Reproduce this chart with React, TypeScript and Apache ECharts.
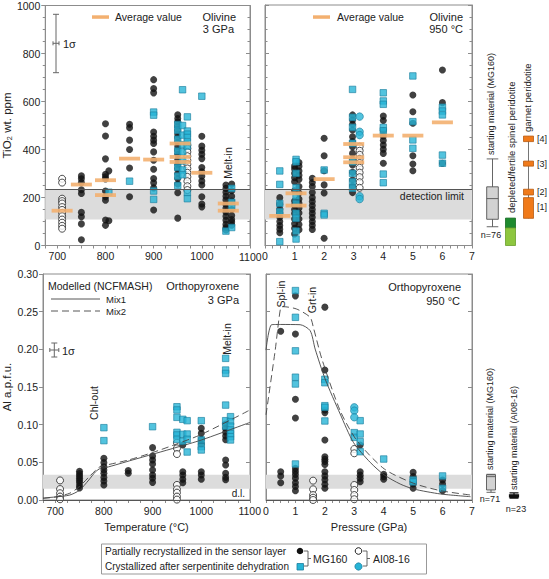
import React, { useEffect, useRef } from "react";
import * as echarts from "echarts";

// ---------------- DATA ----------------
const tempTickLabels = [700, 800, 900, 1000, 1100];

// Olivine, 3 GPa (TiO2 ppm vs temperature)
const olT_black = [
  [750, 290], [750, 278], [750, 262], [750, 232], [750, 217], [750, 138], [750, 120], [750, 90], [750, 24],
  [800, 507], [800, 456], [800, 361], [800, 297], [800, 286], [800, 277], [800, 227], [800, 203], [800, 189], [800, 106], [800, 84], [807, 311], [807, 103],
  [850, 505], [850, 491], [850, 439], [850, 400], [850, 323], [850, 203],
  [900, 691], [900, 654], [900, 636], [900, 473], [900, 455], [900, 439], [900, 425], [900, 390], [900, 355], [900, 318], [900, 279], [900, 261], [900, 240], [900, 148],
  [950, 545], [950, 529], [950, 515], [950, 498], [950, 480], [950, 464], [950, 450], [950, 430], [950, 414], [950, 397], [950, 379], [950, 358], [950, 339], [950, 321], [950, 300], [950, 279], [950, 256], [950, 220], [950, 114],
  [1000, 455], [1000, 414], [1000, 397], [1000, 380], [1000, 362], [1000, 325], [1000, 307], [1000, 289], [1000, 269], [1000, 252], [1000, 203], [1000, 173], [1000, 161],
  [1050, 252], [1050, 238], [1050, 222], [1050, 205], [1050, 190], [1050, 172], [1050, 155], [1050, 140], [1050, 122], [1050, 105], [1050, 88], [1050, 75], [1050, 65],
  [1062, 256], [1062, 228], [1062, 205], [1062, 185], [1062, 150], [1062, 125], [1062, 108], [1062, 98], [1062, 85],
];
const olT_cyanSq = [
  [807, 222], [850, 268], [900, 556], [900, 543], [900, 227], [900, 192],
  [950, 504], [950, 480], [950, 443], [950, 394], [950, 325], [950, 289], [950, 250],
  [960, 649], [960, 500], [960, 460], [960, 420], [960, 390], [960, 352], [960, 315], [960, 295],
  [970, 536], [970, 477], [970, 464], [970, 450], [970, 432], [970, 414], [970, 220], [970, 195],
  [1000, 622], [1050, 60], [1062, 238], [1062, 180], [1062, 161], [1062, 75],
];
const olT_open = [
  [710, 278], [710, 262], [710, 195], [710, 185], [710, 175], [710, 160], [710, 148], [710, 136], [710, 122], [710, 108], [710, 95], [710, 82], [710, 70],
  [970, 418], [970, 404], [970, 390], [970, 372], [970, 355], [970, 339], [970, 321], [970, 303], [970, 286], [970, 268], [970, 247], [970, 231],
];
const olT_avg = [
  [710, 145], [750, 254], [800, 272], [800, 210], [850, 362], [900, 358],
  [955, 425], [955, 369], [955, 348], [1000, 303], [1055, 175], [1055, 145],
];

// Olivine, 950 °C (TiO2 ppm vs pressure)
const olP_black = [
  [0.5, 199], [0.5, 172], [0.5, 152], [0.5, 135], [0.5, 118], [0.5, 100], [0.5, 83], [0.5, 68], [0.5, 53],
  [1.0, 330], [1.0, 318], [1.0, 300], [1.0, 282], [1.0, 265], [1.0, 228], [1.0, 185], [1.0, 168], [1.0, 150], [1.0, 133], [1.0, 110], [1.0, 90], [1.0, 72], [1.0, 48],
  [1.15, 345], [1.15, 330], [1.15, 310], [1.15, 292], [1.15, 275], [1.15, 245], [1.15, 218], [1.15, 193], [1.15, 176], [1.15, 156], [1.15, 135], [1.15, 110], [1.15, 87], [1.15, 66],
  [1.6, 279], [1.6, 262], [1.6, 245], [1.6, 220], [1.6, 199], [1.6, 183], [1.6, 166], [1.6, 150], [1.6, 134], [1.6, 117], [1.6, 100], [1.6, 84], [1.6, 67],
  [2.0, 446], [2.0, 373], [2.0, 311], [2.0, 252], [2.0, 218], [2.0, 30],
  [2.96, 543], [2.96, 522], [2.96, 504], [2.96, 480], [2.96, 452], [2.96, 432], [2.96, 411], [2.96, 383], [2.96, 358], [2.96, 335], [2.96, 304], [2.96, 272], [2.96, 247], [2.96, 220],
  [4.0, 538], [4.0, 520], [4.0, 477], [4.0, 455], [4.0, 437], [4.0, 418], [4.0, 400], [4.0, 383], [4.0, 342],
  [5.0, 626], [5.0, 556], [5.0, 508], [5.0, 373], [5.0, 339], [5.0, 311],
  [6.0, 730], [6.0, 594], [6.0, 342],
];
const olP_cyanSq = [
  [0.5, 310], [0.5, 254], [0.5, 175], [0.5, 141], [0.5, 16],
  [1.05, 358], [1.05, 348], [1.05, 300], [1.05, 240], [1.05, 205], [1.05, 175], [1.05, 134], [1.05, 113], [1.05, 60], [1.05, 27],
  [2.0, 314], [2.0, 134], [2.0, 127],
  [2.96, 649], [2.96, 533], [2.96, 491], [2.96, 425], [2.96, 348], [2.96, 300], [2.96, 265], [2.96, 238],
  [4.0, 635], [4.0, 601], [4.0, 587], [4.0, 491], [4.0, 477], [4.0, 297], [4.0, 261],
  [5.0, 705], [5.0, 515], [5.0, 439], [5.0, 404],
  [6.0, 575], [6.0, 559], [6.0, 543], [6.0, 376], [6.0, 342],
];
const olP_cyanCi = [[3.2, 536], [3.2, 473], [3.2, 459], [3.2, 205], [3.2, 193]];
const olP_open = [
  [3.2, 411], [3.2, 394], [3.2, 377], [3.2, 360], [3.2, 343], [3.2, 323], [3.2, 303], [3.2, 284], [3.2, 263], [3.2, 240],
];
const olP_avg = [
  [0.5, 123], [1.05, 217], [1.05, 166], [2.0, 276], [3.0, 422], [3.0, 367], [3.0, 346], [4.0, 457], [5.0, 457], [6.0, 512],
];

// Orthopyroxene, 3 GPa (Al apfu vs temperature)
const opxT_black = [
  [750, 0.038], [750, 0.035], [750, 0.032], [750, 0.029], [750, 0.026], [750, 0.023], [750, 0.019], [750, 0.016],
  [800, 0.0553], [800, 0.0496], [800, 0.0442], [800, 0.0398], [800, 0.0354], [800, 0.030], [800, 0.0252], [800, 0.0199],
  [850, 0.039], [850, 0.0354],
  [900, 0.0695], [900, 0.0584], [900, 0.053], [900, 0.0478], [900, 0.0398], [900, 0.0332], [900, 0.0288], [900, 0.0234],
  [962, 0.073], [962, 0.0376], [962, 0.0332], [962, 0.0275], [962, 0.023],
  [1000, 0.0951], [1000, 0.0885], [1000, 0.0806], [1000, 0.0743], [1000, 0.0376], [1000, 0.0332], [1000, 0.0275],
  [1050, 0.1009], [1050, 0.0951], [1050, 0.09], [1050, 0.085], [1050, 0.08], [1050, 0.0531], [1050, 0.0465], [1050, 0.0354], [1050, 0.0301], [1050, 0.027],
];
const opxT_cyanSq = [
  [800, 0.096], [800, 0.0788], [900, 0.0973],
  [950, 0.1238], [950, 0.1195], [950, 0.1097], [950, 0.0898], [950, 0.0863], [950, 0.0805],
  [962, 0.1071], [962, 0.0872], [962, 0.078],
  [971, 0.1053], [971, 0.0876], [971, 0.0806], [971, 0.0637],
  [1000, 0.1053], [1000, 0.0797], [1000, 0.0708], [1000, 0.0664],
  [1050, 0.188], [1050, 0.1725], [1050, 0.168], [1050, 0.126], [1050, 0.1053], [1050, 0.098],
  [1060, 0.1106], [1060, 0.104], [1060, 0.098], [1060, 0.093], [1060, 0.088], [1060, 0.084], [1060, 0.0797],
];
const opxT_open = [
  [710, 0.026], [710, 0.0145], [710, 0.009], [710, 0.0045], [710, 0.001],
  [950, 0.076], [950, 0.0686], [950, 0.061], [950, 0.02], [950, 0.0142], [950, 0.0097], [950, 0.0044], [950, 0.0005],
];
const opxT_mix1 = [
  [675, 0.0027], [700, 0.004], [730, 0.0066], [750, 0.013], [769, 0.0265], [783, 0.0376], [793, 0.042], [804, 0.043],
  [858, 0.053], [950, 0.07], [1000, 0.0796], [1100, 0.103],
];
const opxT_mix2 = [
  [675, 0.002], [700, 0.004], [730, 0.009], [750, 0.018], [770, 0.031], [790, 0.0434], [800, 0.0456],
  [850, 0.053], [900, 0.063], [950, 0.0745], [1000, 0.087], [1100, 0.1195],
];

// Orthopyroxene, 950 °C (Al apfu vs pressure)
const opxP_black = [
  [0.5, 0.224], [0.5, 0.0376], [0.5, 0.0319], [0.5, 0.023],
  [1, 0.271], [1, 0.2204], [1, 0.1337], [1, 0.1088], [1, 0.042], [1, 0.038], [1, 0.034], [1, 0.029], [1, 0.023], [1, 0.018], [1, 0.0124],
  [2, 0.256], [2, 0.1726], [2, 0.1195], [2, 0.116], [2, 0.0797], [2, 0.0575], [2, 0.054], [2, 0.051], [2, 0.047], [2, 0.0376], [2, 0.032], [2, 0.027], [2, 0.021], [2, 0.0155],
  [3.2, 0.073], [3.2, 0.0376], [3.2, 0.033], [3.2, 0.029], [3.2, 0.0243],
  [4, 0.0341], [4, 0.031], [4, 0.0275],
  [5, 0.0368], [5, 0.031], [5, 0.0212], [5, 0.0155],
  [6, 0.0265], [6, 0.0212], [6, 0.0124],
];
const opxP_cyanSq = [
  [1, 0.278], [1, 0.2425], [1, 0.198], [1, 0.163], [1, 0.154], [1, 0.0478],
  [2, 0.1602], [2, 0.1557], [2, 0.1252], [2, 0.123], [2, 0.1049],
  [3, 0.0894], [3, 0.0832],
  [3.2, 0.1053], [3.2, 0.0876], [3.2, 0.0774], [3.2, 0.0641],
  [4, 0.0544], [5, 0.0265], [5, 0.024], [6, 0.0319], [6, 0.0155],
];
const opxP_cyanCi = [[3, 0.123], [3, 0.1186], [3, 0.1098]];
const opxP_open = [
  [1.6, 0.0257], [1.6, 0.0142], [1.6, 0.0066], [1.6, 0.003], [1.6, 0.0],
  [3, 0.0677], [3, 0.062], [3, 0.0199], [3, 0.0133], [3, 0.0066], [3, 0.001],
];
const opxP_mix1 = [
  [0, 0.199], [0.19, 0.2327], [0.5, 0.233], [1.16, 0.2327], [1.5, 0.2248], [1.67, 0.2004], [2.01, 0.1606], [2.52, 0.1142],
  [2.97, 0.0765], [3.54, 0.05], [4.02, 0.0332], [4.56, 0.0212], [5.02, 0.0146], [5.93, 0.008], [6.95, 0.0044],
];
const opxP_mix2 = [
  [0, 0.113], [0.31, 0.198], [0.5, 0.2558], [0.59, 0.2566], [1.04, 0.2535], [1.5, 0.2425], [1.61, 0.229], [1.9, 0.187],
  [2.52, 0.1186], [3.09, 0.0788], [4.02, 0.0412], [5.02, 0.0221], [5.93, 0.0124], [6.95, 0.0066],
];

// detection limits
const olDetectBand = [108, 235];
const olDetectLine = 235;
const opxBand = [0.015, 0.0335];
const opxDL = 0.0035;

// side reference data
const olSideCats = ["MG160", "spinel", "garnet"];
const olStartBox = [78, 109, 195, 244, 360]; // min, q1, median, q3, max
const spinelRanges = [[73, 114], [0, 73]];
const garnetRanges = [[113, 199], [210, 234], [330, 351], [432, 455]];
const garnetWhisker = [113, 455];
const opxSideCats = ["MG160", "AI08-16"];
const opxStartMG = [0.0102, 0.0133, 0.031, 0.0335, 0.0341];
const opxStartAI = [0.0025, 0.004, 0.0055, 0.007, 0.0095];

// ---------------- STYLE ----------------
const FONT = '"Liberation Sans", Arial, Helvetica, sans-serif';
const AX = "#8c8c8c";
const TXT = "#222";
const ORANGE_AVG = "#f3b070";

const BLACK = { type: "scatter", symbol: "circle", symbolSize: 7, itemStyle: { color: "#111" }, silent: true };
const CYAN_SQ = { type: "scatter", symbol: "rect", symbolSize: 6.5, itemStyle: { color: "#27b4d6", borderColor: "#1a7e9e", borderWidth: 0.8 }, silent: true };
const CYAN_CI = { type: "scatter", symbol: "circle", symbolSize: 7.5, itemStyle: { color: "#27b4d6", borderColor: "#1a7e9e", borderWidth: 0.8 }, silent: true };
const OPEN = { type: "scatter", symbol: "circle", symbolSize: 7, itemStyle: { color: "#fff", borderColor: "#222", borderWidth: 1 }, silent: true };
const AVG = { type: "scatter", symbol: "rect", symbolSize: [21, 3.8], itemStyle: { color: ORANGE_AVG, opacity: 0.9 }, silent: true, z: 5 };

function ax(i: number) {
  return { xAxisIndex: i, yAxisIndex: i };
}

function txt(text: string, x: number, y: number, extra: any = {}, rot = 0) {
  return {
    type: "text",
    x,
    y,
    z: extra.z ?? 10,
    rotation: rot,
    silent: true,
    style: {
      text,
      fill: TXT,
      fontSize: extra.fontSize ?? 10.5,
      fontFamily: FONT,
      align: extra.align ?? "left",
      verticalAlign: extra.verticalAlign ?? "middle",
    },
  };
}
function ln(x1: number, y1: number, x2: number, y2: number, extra: any = {}) {
  return {
    type: "line",
    silent: true,
    shape: { x1, y1, x2, y2 },
    style: { stroke: extra.stroke ?? "#555", lineWidth: extra.lineWidth ?? 1, lineDash: extra.lineDash },
  };
}
function errBar(cx: number, top: number, bottom: number, cy: number, hw: number) {
  return [
    ln(cx, top, cx, bottom, { stroke: "#666" }),
    ln(cx - 3, top, cx + 3, top, { stroke: "#666" }),
    ln(cx - 3, bottom, cx + 3, bottom, { stroke: "#666" }),
    ln(cx - hw, cy, cx + hw, cy, { stroke: "#666" }),
    ln(cx - hw, cy - 2, cx - hw, cy + 2, { stroke: "#666" }),
    ln(cx + hw, cy - 2, cx + hw, cy + 2, { stroke: "#666" }),
  ];
}

function xAxisT(grid: number, name?: string) {
  return {
    type: "value",
    gridIndex: grid,
    min: 675,
    max: 1100,
    interval: 25,
    axisLine: { lineStyle: { color: AX } },
    axisTick: { length: 3, lineStyle: { color: AX } },
    splitLine: { show: false },
    axisLabel: {
      color: TXT,
      fontSize: 10.5,
      fontFamily: FONT,
      margin: 5,
      hideOverlap: false,
      customValues: tempTickLabels.slice(0, -1),
      formatter: (v: number) => String(Math.round(v)),
    },
    name,
    nameLocation: "middle",
    nameGap: 21,
    nameTextStyle: { color: TXT, fontSize: 11, fontFamily: FONT },
  };
}
function xAxisP(grid: number, name?: string) {
  return {
    type: "value",
    gridIndex: grid,
    min: 0,
    max: 7,
    interval: 1,
    axisLine: { lineStyle: { color: AX } },
    axisTick: { length: 3, lineStyle: { color: AX } },
    minorTick: { show: true, splitNumber: 4, length: 3, lineStyle: { color: AX } },
    splitLine: { show: false },
    minorSplitLine: { show: false },
    axisLabel: { color: TXT, fontSize: 10.5, fontFamily: FONT, margin: 5, showMaxLabel: true, showMinLabel: true },
    name,
    nameLocation: "middle",
    nameGap: 21,
    nameTextStyle: { color: TXT, fontSize: 11, fontFamily: FONT },
  };
}
function yAxisOl(grid: number, side: "left" | "right", labels: boolean, inside: boolean) {
  return {
    type: "value",
    gridIndex: grid,
    position: side,
    min: 0,
    max: 1000,
    interval: 200,
    axisLine: { show: true, lineStyle: { color: AX } },
    axisTick: { show: true, inside, length: 4, lineStyle: { color: AX } },
    minorTick: { show: true, splitNumber: 4, length: 2.5, lineStyle: { color: AX } },
    splitLine: { show: false },
    minorSplitLine: { show: false },
    axisLabel: {
      show: labels,
      color: TXT,
      fontSize: 10.5,
      fontFamily: FONT,
      margin: 5,
      showMaxLabel: true,
      formatter: (v: number) => String(Math.round(v)),
    },
    name: labels ? "TiO\u2082 wt. ppm" : undefined,
    nameLocation: "middle",
    nameGap: 30,
    nameTextStyle: { color: TXT, fontSize: 11.5, fontFamily: FONT },
  };
}
function yAxisOpx(grid: number, side: "left" | "right", labels: boolean, inside: boolean) {
  return {
    type: "value",
    gridIndex: grid,
    position: side,
    min: 0,
    max: 0.3,
    interval: 0.05,
    axisLine: { show: true, lineStyle: { color: AX } },
    axisTick: { show: true, inside, length: 4, lineStyle: { color: AX } },
    splitLine: { show: false },
    axisLabel: {
      show: labels,
      color: TXT,
      fontSize: 10.5,
      fontFamily: FONT,
      margin: 5,
      showMaxLabel: true,
      formatter: (v: number) => v.toFixed(2),
    },
    name: labels ? "Al a.p.f.u." : undefined,
    nameLocation: "middle",
    nameGap: 30,
    nameTextStyle: { color: TXT, fontSize: 11.5, fontFamily: FONT },
  };
}

function bandSeries(i: number, band: number[], line: number) {
  return {
    type: "scatter",
    ...ax(i),
    data: [],
    silent: true,
    z: 1,
    markArea: {
      silent: true,
      itemStyle: { color: "#dcdcdc" },
      data: [[{ yAxis: band[0] }, { yAxis: band[1] }]],
    },
    markLine: {
      silent: true,
      symbol: "none",
      label: { show: false },
      lineStyle: { color: "#555", width: 1, type: "solid" },
      data: [{ yAxis: line }],
    },
  };
}
function modelLine(i: number, data: number[][], dashed: boolean) {
  return {
    type: "line",
    ...ax(i),
    data,
    showSymbol: false,
    symbol: "none",
    smooth: 0.25,
    silent: true,
    z: 3,
    lineStyle: { color: "#444", width: 0.9, type: dashed ? [7, 4] : "solid" },
  };
}

const rangeColors = ["#1e8a2e", "#8dc63f", "#f07a1a"];
const rangeStrokes = ["#156b22", "#6a9e2c", "#b85a10"];

function renderRange(params: any, api: any) {
  const cat = api.value(0);
  const lo = api.value(1);
  const hi = api.value(2);
  const kind = api.value(3);
  const p0 = api.coord([cat, lo]);
  const p1 = api.coord([cat, hi]);
  if (kind === 3) {
    return { type: "line", shape: { x1: p0[0], y1: p0[1], x2: p1[0], y2: p1[1] }, style: { stroke: "#666", lineWidth: 0.9 } };
  }
  const w = 10;
  return {
    type: "rect",
    shape: { x: p0[0] - w / 2, y: p1[1], width: w, height: p0[1] - p1[1] },
    style: { fill: rangeColors[kind], stroke: rangeStrokes[kind], lineWidth: 0.8 },
  };
}

const rangeData = [
  [2, garnetWhisker[0], garnetWhisker[1], 3],
  ...spinelRanges.map((r, k) => [1, r[0], r[1], k]),
  ...garnetRanges.map((r) => [2, r[0], r[1], 2]),
];

const lastT = String(tempTickLabels[tempTickLabels.length - 1]);

const option: any = {
  animation: false,
  textStyle: { fontFamily: FONT },
  grid: [
    { left: 42, top: 5, width: 208, height: 240.5, show: true, borderColor: AX, borderWidth: 1, backgroundColor: "transparent" },
    { left: 265, top: 5, width: 207, height: 240.5, show: true, borderColor: AX, borderWidth: 1, backgroundColor: "transparent" },
    { left: 42, top: 274, width: 208, height: 226, show: true, borderColor: AX, borderWidth: 1, backgroundColor: "transparent" },
    { left: 266, top: 274, width: 206, height: 226, show: true, borderColor: AX, borderWidth: 1, backgroundColor: "transparent" },
    { left: 483.5, top: 5, width: 54, height: 240.5 },
    { left: 479.5, top: 274, width: 46, height: 226 },
  ],
  xAxis: [
    xAxisT(0),
    xAxisP(1),
    xAxisT(2, "Temperature (\u00B0C)"),
    xAxisP(3, "Pressure (GPa)"),
    { type: "category", gridIndex: 4, data: olSideCats, show: false },
    { type: "category", gridIndex: 5, data: opxSideCats, show: false },
  ],
  yAxis: [
    yAxisOl(0, "left", true, false),
    yAxisOl(1, "left", false, true),
    yAxisOpx(2, "left", true, false),
    yAxisOpx(3, "left", false, true),
    yAxisOl(0, "right", false, true),
    yAxisOl(1, "right", false, true),
    yAxisOpx(2, "right", false, true),
    yAxisOpx(3, "right", false, true),
    { type: "value", gridIndex: 4, min: 0, max: 1000, show: false },
    { type: "value", gridIndex: 5, min: 0, max: 0.3, show: false },
  ],
  series: [
    bandSeries(0, olDetectBand, olDetectLine),
    bandSeries(1, olDetectBand, olDetectLine),
    bandSeries(2, opxBand, opxDL),
    bandSeries(3, opxBand, opxDL),
    modelLine(2, opxT_mix1, false),
    modelLine(2, opxT_mix2, true),
    modelLine(3, opxP_mix1, false),
    modelLine(3, opxP_mix2, true),
    { ...BLACK, ...ax(0), data: olT_black },
    { ...OPEN, ...ax(0), data: olT_open },
    { ...CYAN_SQ, ...ax(0), data: olT_cyanSq },
    { ...AVG, ...ax(0), data: olT_avg },
    { ...BLACK, ...ax(1), data: olP_black },
    { ...OPEN, ...ax(1), data: olP_open },
    { ...CYAN_SQ, ...ax(1), data: olP_cyanSq },
    { ...CYAN_CI, ...ax(1), data: olP_cyanCi },
    { ...AVG, ...ax(1), data: olP_avg },
    { ...BLACK, ...ax(2), data: opxT_black },
    { ...OPEN, ...ax(2), data: opxT_open },
    { ...CYAN_SQ, ...ax(2), data: opxT_cyanSq },
    { ...BLACK, ...ax(3), data: opxP_black },
    { ...OPEN, ...ax(3), data: opxP_open },
    { ...CYAN_SQ, ...ax(3), data: opxP_cyanSq },
    { ...CYAN_CI, ...ax(3), data: opxP_cyanCi },
    {
      type: "boxplot",
      xAxisIndex: 4,
      yAxisIndex: 8,
      silent: true,
      boxWidth: [11.6, 11.6],
      itemStyle: { color: "#d2d2d2", borderColor: "#555", borderWidth: 0.9 },
      data: [olStartBox],
    },
    {
      type: "custom",
      xAxisIndex: 4,
      yAxisIndex: 8,
      silent: true,
      renderItem: renderRange,
      data: rangeData,
    },
    {
      type: "boxplot",
      xAxisIndex: 5,
      yAxisIndex: 9,
      silent: true,
      boxWidth: [9, 9],
      data: [
        { value: opxStartMG, itemStyle: { color: "#d2d2d2", borderColor: "#555", borderWidth: 0.9 } },
        { value: opxStartAI, itemStyle: { color: "#444", borderColor: "#111", borderWidth: 1.2 } },
      ],
    },
  ],
  graphic: [
    // right-most temperature tick labels (drawn as text next to the axes)
    {
      type: "text",
      id: "t1100a",
      left: 239,
      top: 251,
      z: 100,
      silent: true,
      style: { text: lastT, fill: TXT, fontSize: 10.5, fontFamily: FONT },
    },
    { id: "t1100b", ...txt(lastT, 261, 510.5, { align: "right", fontSize: 10.5, z: 100 }) },
    // Olivine 3 GPa annotations
    ...errBar(56, 14.3, 72.7, 43.3, 3),
    txt("1\u03C3", 63, 43.5, { fontSize: 11 }),
    { type: "rect", silent: true, shape: { x: 92, y: 15.3, width: 17, height: 3.5 }, style: { fill: ORANGE_AVG } },
    txt("Average value", 115, 17, { fontSize: 10.5 }),
    txt("Olivine", 236, 16.5, { align: "right", fontSize: 11 }),
    txt("3 GPa", 234, 29, { align: "right", fontSize: 11 }),
    txt("Melt-in", 228, 163, { align: "center", fontSize: 10.5 }, Math.PI / 2),
    // Olivine 950 °C
    { type: "rect", silent: true, shape: { x: 313, y: 15.3, width: 17, height: 3.5 }, style: { fill: ORANGE_AVG } },
    txt("Average value", 337, 17, { fontSize: 10.5 }),
    txt("Olivine", 463, 16.5, { align: "right", fontSize: 11 }),
    txt("950 \u00B0C", 463, 29, { align: "right", fontSize: 11 }),
    txt("detection limit", 464, 196, { align: "right", fontSize: 10.5 }),
    // Opx 3 GPa
    txt("Modelled (NCFMASH)", 48, 286, { fontSize: 10.5 }),
    ln(51, 299, 100, 299, { stroke: "#444", lineWidth: 0.9 }),
    txt("Mix1", 106, 299.5, { fontSize: 9.5 }),
    ln(51, 311, 100, 311, { stroke: "#444", lineWidth: 0.9, lineDash: [7, 4] }),
    txt("Mix2", 106, 311.5, { fontSize: 9.5 }),
    txt("Orthopyroxene", 239, 286, { align: "right", fontSize: 11 }),
    txt("3 GPa", 239, 299.5, { align: "right", fontSize: 11 }),
    ...errBar(54.3, 343, 357, 350, 4.5),
    txt("1\u03C3", 62, 350.5, { fontSize: 11 }),
    txt("Chl-out", 94, 403, { align: "center", fontSize: 10.5 }, Math.PI / 2),
    txt("Melt-in", 227, 339, { align: "center", fontSize: 10.5 }, Math.PI / 2),
    txt("d.l.", 245, 493, { align: "right", fontSize: 10 }),
    // Opx 950 °C
    txt("Orthopyroxene", 461, 287, { align: "right", fontSize: 11 }),
    txt("950 \u00B0C", 460, 301, { align: "right", fontSize: 11 }),
    txt("Spl-in", 281, 294, { align: "center", fontSize: 10.5 }, Math.PI / 2),
    txt("Grt-in", 312, 300, { align: "center", fontSize: 10.5 }, Math.PI / 2),
    // side (olivine)
    txt("starting material (MG160)", 491, 155, { fontSize: 9 }, Math.PI / 2),
    txt("depleted/fertile spinel peridotite", 511, 213, { fontSize: 9.5 }, Math.PI / 2),
    txt("garnet peridotite", 527, 132, { fontSize: 9.5 }, Math.PI / 2),
    txt("n=76", 491, 235, { align: "center", fontSize: 9 }),
    txt("[4]", 537, 139, { fontSize: 9 }),
    txt("[3]", 537, 164, { fontSize: 9 }),
    txt("[2]", 537, 192, { fontSize: 9 }),
    txt("[1]", 537, 207, { fontSize: 9 }),
    // side (opx)
    txt("starting material (MG160)", 490, 470, { fontSize: 9 }, Math.PI / 2),
    txt("starting material (AI08-16)", 514, 490, { fontSize: 9 }, Math.PI / 2),
    txt("n=71", 490, 499, { align: "center", fontSize: 9 }),
    txt("n=23", 516, 509, { align: "center", fontSize: 9 }),
    // legend box
    { type: "rect", silent: true, shape: { x: 101.5, y: 544, width: 325, height: 30 }, style: { fill: "#fff", stroke: "#999", lineWidth: 1 } },
    txt("Partially recrystallized in the sensor layer", 105, 551.5, { fontSize: 10 }),
    txt("Crystallized after serpentinite dehydration", 105, 566, { fontSize: 10 }),
    { type: "circle", silent: true, shape: { cx: 300, cy: 551, r: 3.3 }, style: { fill: "#111" } },
    { type: "rect", silent: true, shape: { x: 297, y: 563.5, width: 6.5, height: 6.5 }, style: { fill: "#27b4d6", stroke: "#1a7e9e", lineWidth: 0.8 } },
    { type: "polyline", silent: true, shape: { points: [[304, 551], [308, 551], [308, 566], [304, 566]] }, style: { stroke: "#555", fill: "none", lineWidth: 0.9 } },
    ln(308, 558.5, 311, 558.5, { stroke: "#555", lineWidth: 0.9 }),
    txt("MG160", 313, 559, { fontSize: 10.5 }),
    { type: "circle", silent: true, shape: { cx: 358.5, cy: 551, r: 3.3 }, style: { fill: "#fff", stroke: "#222", lineWidth: 1 } },
    { type: "circle", silent: true, shape: { cx: 358.5, cy: 566.5, r: 3.6 }, style: { fill: "#27b4d6", stroke: "#1a7e9e", lineWidth: 0.8 } },
    { type: "polyline", silent: true, shape: { points: [[363, 551], [367, 551], [367, 566], [363, 566]] }, style: { stroke: "#555", fill: "none", lineWidth: 0.9 } },
    ln(367, 558.5, 370, 558.5, { stroke: "#555", lineWidth: 0.9 }),
    txt("AI08-16", 373, 559, { fontSize: 10.5 }),
  ],
};

export default function App() {
  const ref = useRef<HTMLDivElement>(null);
  useEffect(() => {
    if (!ref.current) return;
    const chart = echarts.init(ref.current, null, { renderer: "svg" });
    chart.setOption(option);
    return () => chart.dispose();
  }, []);
  return (
    <div
      ref={ref}
      style={{ position: "fixed", left: 0, top: 0, width: 549, height: 579, background: "#fff" }}
    />
  );
}
